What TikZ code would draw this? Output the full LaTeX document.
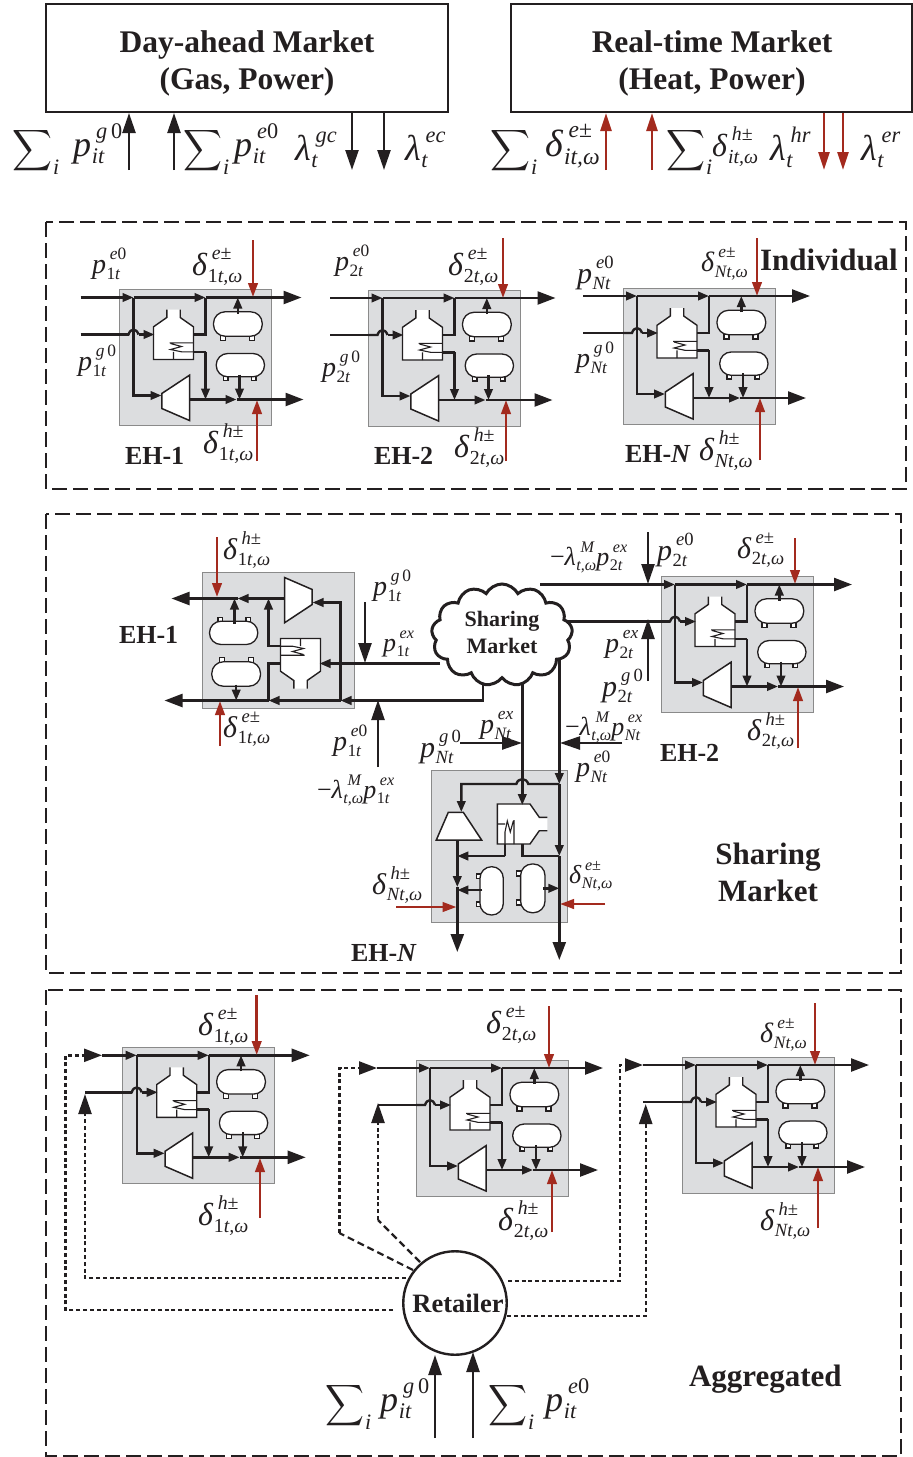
\documentclass[tikz,border=0pt]{standalone}
\usepackage{graphicx}
\usepackage{fontspec}
\setmainfont{Liberation Serif}
\usetikzlibrary{arrows.meta,shapes.symbols}
\definecolor{ink}{HTML}{231F20}
\definecolor{redl}{HTML}{A32A1E}
\definecolor{ehgray}{HTML}{DCDDDF}
\definecolor{ehedge}{HTML}{8A8A8A}
\newcommand\fs[1]{\fontsize{#1}{#1}\selectfont}
\newcommand\fss[1]{\fontsize{\the\dimexpr #1pt*62/100\relax}{#1pt}\selectfont}
\newcommand\I[1]{\textit{#1}}
% base symbol with superscript and subscript: size, base, sup, sub
\newcommand\sy[4]{\begingroup\fs{#1}\textit{#2}%
 \setbox0\hbox{\fss{#1}#3}\setbox2\hbox{\fss{#1}#4}%
 \dimen0=\wd0 \ifdim\wd2>\dimen0 \dimen0=\wd2\fi
 \kern.02em\hbox to\dimen0{\rlap{\kern.12em\raise.5em\box0}\lower.22em\box2\hfil}\endgroup}
\newcommand\Sm[3]{\raisebox{-2pt}{\resizebox*{#1pt}{46pt}{$\displaystyle\sum$}}\kern1pt\raisebox{-18pt}{\fs{#2}\textit{i}}\kern#3pt}
\newcommand\om{\I{t,ω}}
\newcommand\conn[4][plainl]{\coordinate (#2a) at (#3);\coordinate (#2b) at (#4);\draw[#1] (#2a)--(#2b);}
\tikzset{
 lab/.style={anchor=base west,inner sep=0pt,outer sep=0pt,text=ink},
 ttl/.style={anchor=base west,inner sep=0pt,outer sep=0pt,text=ink,font=\fs{26}\bfseries},
 big/.style={anchor=center,inner sep=0pt,align=center,text=ink,font=\fs{31}\bfseries},
 plainl/.style={draw=ink,line width=2.4pt},
 thinl/.style={draw=ink,line width=1.4pt},
 midl/.style={draw=ink,line width=2.4pt,-{Triangle[length=11pt,width=8.5pt]}},
 bigl/.style={draw=ink,line width=2.4pt,-{Triangle[length=18pt,width=13pt]}},
 exta/.style={draw=ink,line width=2.4pt,-{Triangle[length=20pt,width=13pt]}},
 reda/.style={draw=redl,line width=2.6pt,-{Triangle[length=14pt,width=9.5pt]}},
 topr/.style={draw=redl,line width=2.6pt,-{Triangle[length=18pt,width=11pt]}},
 dotl/.style={draw=ink,line width=2.4pt,dash pattern=on 4pt off 2.8pt},
 dashl/.style={draw=ink,line width=2.2pt,dash pattern=on 7pt off 4pt},
 panel/.style={draw=ink,line width=2pt,dash pattern=on 15pt off 6pt},
 mbox/.style={draw=ink,line width=2.2pt,fill=white},
 mtxt/.style={align=center,inner sep=0pt,font=\fs{31.5}\bfseries,text=ink},
}
% energy hub: name, end of top line, end of heat line (local coordinates),
% crossing of gas line and branch: 0 gas hops, 1 no hop, 2 branch hops
\newcommand\eh[4]{%
 \path[fill=ehgray,draw=ehedge,line width=1pt] (0,0) rectangle (152,136);
 \coordinate (#1-t) at (0,8);\coordinate (#1-g) at (9,45);
 % CHP
 \fill[white] (47.3,20)--(47.3,28)--(34,37.3)--(34,70)--(74,70)--(74,37.3)--(60.7,28)--(60.7,20)--cycle;
 \draw[thinl] (47.3,20)--(47.3,28)--(34,37.3)--(34,70)--(74,70)--(74,37.3)--(60.7,28)--(60.7,20);
 \draw[line width=1.1pt,draw=ink] (50,53.3)--(74,53.3) (51,54)--(62,57)--(51,60)--(62,62.3)--(74,62.3) (54,62.3)--(54,70);
 % turbine
 \draw[draw=ink,fill=white,line width=1.5pt] (42.3,104)--(70,85.7)--(70,131)--(42.3,119)--cycle;
 % tanks
 \draw[draw=ink,fill=white,line width=1.1pt] (101,46)rectangle(106,51) (130,46)rectangle(135,51) (104,86)rectangle(108.5,91) (132,86)rectangle(136.5,91);
 \draw[draw=ink,fill=white,line width=1.3pt,rounded corners=11.5pt] (94,22.3) rectangle (142.7,46.7);
 \draw[draw=ink,fill=white,line width=1.3pt,rounded corners=11.5pt] (96.7,64) rectangle (145,87.3);
 % flows
 \draw[midl] (0,8)--(14,8);
 \draw[midl] (14,8)--(86,8);
 \draw[bigl] (86,8)--(#2,8);
 \ifnum#4=2
  \draw[midl] (14,8)--(14,39) .. controls (7.5,41) and (7.5,49) .. (14,51)--(14,106)--(42,106);
  \draw[midl] (9,45)--(35,45);
  \draw[plainl] (0,45)--(9,45);
 \else
  \draw[midl] (14,8)--(14,106)--(42,106);
  \ifnum#4=1
   \draw[midl] (9,45)--(35,45);
   \draw[plainl] (0,45)--(9,45);
  \else
   \draw[plainl] (0,45)--(9,45) .. controls (11,38.5) and (17,38.5) .. (19,45);
   \draw[midl] (19,45)--(35,45);
  \fi
 \fi
 \draw[plainl] (74,45)--(86,45)--(86,8);
 \draw[plainl] (74,62.3)--(86,62.3);
 \draw[midl] (86,62)--(86,110);
 \draw[midl] (70,110)--(117,110);
 \draw[bigl] (117,110)--(#3,110);
 \draw[midl] (120,85)--(120,110);
 \draw[midl] (118.3,24)--(118.3,8);
}
\begin{document}
\begin{tikzpicture}[x=1pt,y=-1pt]
\useasboundingbox (0,0) rectangle (913,1457);
\fill[white] (0,0) rectangle (913,1457);

% ---- markets
\node[mbox,minimum width=402pt,minimum height=108pt] (dam) at (247,58) {};
\node[mbox,minimum width=401pt,minimum height=108pt] (rtm) at (711.5,58) {};
\node[mtxt] (damt) at (247,63.5) {Day-ahead Market\\[6pt](Gas, Power)};
\node[mtxt] (rtmt) at (712,63.5) {Real-time Market\\[6pt](Heat, Power)};
\conn[exta]{u1}{129,170}{129,113}
\conn[exta]{u2}{174,170}{174,113}
\conn[exta]{u3}{352,113}{352,170}
\conn[exta]{u4}{384,113}{384,170}
\conn[topr]{u5}{606,170}{606,113}
\conn[topr]{u6}{652,170}{652,113}
\conn[topr]{u7}{824,113}{824,170}
\conn[topr]{u8}{843,113}{843,170}
\node[lab] (l1) at (12,156) {\Sm{40}{22}{14}\sy{36}{p}{\I{g}\,0}{\I{it}}};
\node[lab] (l2) at (183,156) {\Sm{39}{22}{5}\sy{36}{p}{\I{e}0}{\I{it}}};
\node[lab] (l3) at (295,160) {\sy{36}{λ}{\I{gc}}{\I{t}}};
\node[lab] (l4) at (405,160) {\sy{36}{λ}{\I{ec}}{\I{t}}};
\node[lab] (l5) at (490,156) {\Sm{40}{22}{8}\sy{38}{δ}{\I{e}±}{\I{it,ω}}};
\node[lab] (l6) at (666,156) {\Sm{39}{22}{0}\sy{32}{δ}{\I{h}±}{\I{it,ω}}};
\node[lab] (l7) at (770,160) {\sy{36}{λ}{\I{hr}}{\I{t}}};
\node[lab] (l8) at (861,160) {\sy{36}{λ}{\I{er}}{\I{t}}};

% ---- panels
\draw[panel] (46,222) rectangle (906,489);
\draw[panel] (46,514) rectangle (901,973);
\draw[panel] (46,990) rectangle (901,1456);

% ---- individual
\begin{scope}[shift={(119.5,289.5)}]\eh{ia}{182}{184}{0}\end{scope}
\begin{scope}[shift={(368.5,290)}]\eh{ib}{187}{184}{0}\end{scope}
\begin{scope}[shift={(623,288)}]\eh{ic}{187}{183}{0}\end{scope}
\coordinate (ia-s) at (80.5,297.5);\coordinate (ia-h) at (80.5,334.5);
\draw[plainl] (ia-s)--(ia-t) (ia-h)--(ia-g);
\coordinate (ib-s) at (330,298);\coordinate (ib-h) at (330,335);
\draw[plainl] (ib-s)--(ib-t) (ib-h)--(ib-g);
\coordinate (ic-s) at (583,296);\coordinate (ic-h) at (583,333);
\draw[plainl] (ic-s)--(ic-t) (ic-h)--(ic-g);
\conn[reda]{ra}{253,240}{253,297}
\conn[reda]{rb}{257,461}{257,400}
\conn[reda]{rc}{503,238}{503,298}
\conn[reda]{rd}{506,461}{506,400}
\conn[reda]{re}{757,238}{757,296}
\conn[reda]{rf}{760,460}{760,398}
\node[lab] (i1) at (92,273) {\sy{28}{p}{\I{e}0}{1\I{t}}};
\node[lab] (i2) at (78,370) {\sy{28}{p}{\I{g}\,0}{1\I{t}}};
\node[lab] (i3) at (192,275) {\sy{32}{δ}{\I{e}±}{1\om}};
\node[lab] (i4) at (203,453) {\sy{32}{δ}{\I{h}±}{1\om}};
\node[ttl] (i5) at (125,464) {EH-1};
\node[lab] (i6) at (335,270) {\sy{28}{p}{\I{e}0}{2\I{t}}};
\node[lab] (i7) at (322,376) {\sy{28}{p}{\I{g}\,0}{2\I{t}}};
\node[lab] (i8) at (448,275) {\sy{32}{δ}{\I{e}±}{2\om}};
\node[lab] (i9) at (454,457) {\sy{32}{δ}{\I{h}±}{2\om}};
\node[ttl] (i10) at (374,464) {EH-2};
\node[lab] (i11) at (577,283) {\sy{30}{p}{\I{e}0}{\I{Nt}}};
\node[lab] (i12) at (576,367) {\sy{28}{p}{\I{g}\,0}{\I{Nt}}};
\node[lab] (i13) at (701,271) {\sy{28}{δ}{\I{e}±}{\I{Nt,ω}}};
\node[lab] (i14) at (699,460) {\sy{32}{δ}{\I{h}±}{\I{Nt,ω}}};
\node[ttl] (i15) at (625,462) {EH-\textit{N}};
\node[lab,font=\fs{31}\bfseries] (i16) at (760,270) {Individual};

% ---- sharing
\begin{scope}[shift={(354.5,708.5)},rotate=180]\eh{sa}{190}{183}{1}\end{scope}
\begin{scope}[shift={(661,576.5)}]\eh{sb}{191}{183}{0}\end{scope}
\begin{scope}[shift={(567.3,770)},rotate=-90]\eh{sc}{190}{182}{2}\end{scope}
\coordinate (c1) at (440,663.5);\coordinate (c2) at (483,670);\coordinate (c3) at (540,584.5);
\coordinate (c4) at (560,621.5);\coordinate (c5) at (522.3,670);\coordinate (c6) at (559.3,650);
\draw[plainl] (c1)--(sa-g) (c2)|-(sa-t);
\draw[plainl] (c3)--(sb-t) (c4)--(sb-g);
\draw[plainl] (c5)--(sc-g) (c6)--(sc-t);
\node[cloud,cloud puffs=13,cloud puff arc=125,aspect=1.45,draw=ink,fill=white,line width=3pt,minimum width=141pt,minimum height=102pt,inner sep=0pt] (mk) at (502,635) {};
\node[align=center,inner sep=0pt,text=ink,font=\fs{22}\bfseries] (mkt) at (502,632.5) {Sharing\\[5pt]Market};
\conn[exta]{sg}{365,602}{365,663}
\conn[exta]{se}{378,767}{378,700}
\conn[exta]{sh}{648,532}{648,584}
\conn[exta]{si}{648,681}{648,619}
\conn[exta]{sj}{460,743}{522,743}
\conn[exta]{sk}{622,743}{560,743}
\conn[reda]{sr1}{217,537}{217,597}
\conn[reda]{sr2}{220,746}{220,701}
\conn[reda]{sr3}{795,538}{795,584}
\conn[reda]{sr4}{798,748}{798,687}
\conn[reda]{sr5}{396,907}{456.5,907}
\conn[reda]{sr6}{605,904}{560,904}
\node[lab] (s1) at (223,559) {\sy{30}{δ}{\I{h}±}{1\om}};
\node[lab] (s2) at (223,737) {\sy{30}{δ}{\I{e}±}{1\om}};
\node[lab] (s3) at (373,595) {\sy{28}{p}{\I{g}\,0}{1\I{t}}};
\node[lab] (s4) at (383,651) {\sy{26}{p}{\I{ex}}{1\I{t}}};
\node[lab] (s5) at (333,750) {\sy{28}{p}{\I{e}0}{1\I{t}}};
\node[lab] (s6) at (317,798) {\fs{26}−\sy{26}{λ}{\kern1pt\I{M}}{\om}\sy{26}{p}{\I{ex}}{1\I{t}}};
\node[ttl] (s7) at (119,643) {EH-1};
\node[lab] (s8) at (550,565) {\fs{26}−\sy{26}{λ}{\kern1pt\I{M}}{\om}\sy{26}{p}{\I{ex}}{2\I{t}}};
\node[lab] (s9) at (657,560) {\sy{30}{p}{\I{e}0}{2\I{t}}};
\node[lab] (s10) at (737,558) {\sy{30}{δ}{\I{e}±}{2\om}};
\node[lab] (s11) at (605,652) {\sy{28}{p}{\I{ex}}{2\I{t}}};
\node[lab] (s12) at (602,696) {\sy{30}{p}{\I{g}\,0}{2\I{t}}};
\node[lab] (s13) at (747,740) {\sy{30}{δ}{\I{h}±}{2\om}};
\node[ttl] (s14) at (660,761) {EH-2};
\node[lab] (s15) at (480,733) {\sy{28}{p}{\I{ex}}{\I{Nt}}};
\node[lab] (s16) at (420,757) {\sy{30}{p}{\I{g}\,0}{\I{Nt}}};
\node[lab] (s17) at (565,735) {\fs{26}−\sy{26}{λ}{\kern1pt\I{M}}{\om}\sy{26}{p}{\I{ex}}{\I{Nt}}};
\node[lab] (s18) at (576,776) {\sy{28}{p}{\I{e}0}{\I{Nt}}};
\node[lab] (s19) at (372,894) {\sy{30}{δ}{\I{h}±}{\I{Nt,ω}}};
\node[lab] (s20) at (569,883) {\sy{26}{δ}{\I{e}±}{\I{Nt,ω}}};
\node[ttl] (s21) at (351,961) {EH-\textit{N}};
\node[big] (s22) at (768,872.5) {Sharing\\[6pt]Market};

% ---- aggregated
\begin{scope}[shift={(122.7,1047.3)}]\eh{aa}{187}{183}{0}\end{scope}
\begin{scope}[shift={(416,1060)}]\eh{ab}{187}{182}{0}\end{scope}
\begin{scope}[shift={(682,1057)}]\eh{ac}{187}{183}{0}\end{scope}
\coordinate (a1) at (102,1055.3);\coordinate (a2) at (85,1092.3);
\coordinate (a3) at (377,1068);\coordinate (a4) at (378,1105);
\coordinate (a5) at (643,1065);\coordinate (a6) at (643,1102);
\draw[plainl] (a1)--(aa-t) (a2)--(aa-g);
\draw[plainl] (a3)--(ab-t) (a4)--(ab-g);
\draw[plainl] (a5)--(ac-t) (a6)--(ac-g);
\node[circle,draw=ink,fill=white,line width=2.4pt,minimum size=103.5pt,inner sep=0pt,text=ink,font=\fs{26.5}\bfseries] (ret) at (455,1303) {\kern6pt Retailer};
% dotted feeders
\coordinate (d1) at (393,1310);\coordinate (d1a) at (65.5,1310);\coordinate (d1b) at (65.5,1055.3);\coordinate (d1c) at (84,1055.3);
\draw[dotl] (d1)--(d1a)--(d1b)--(d1c);
\coordinate (d2) at (406,1278);\coordinate (d2a) at (85,1278);\coordinate (d2b) at (85,1113);
\draw[dotl] (d2)--(d2a)--(d2b);
\coordinate (d3) at (413,1270);\coordinate (d3a) at (339.3,1233);\coordinate (d3b) at (339.3,1068);\coordinate (d3c) at (359,1068);
\draw[dashl] (d3)--(d3a);
\draw[dotl] (d3a)--(d3b)--(d3c);
\coordinate (d4) at (420,1262);\coordinate (d4a) at (378,1220);\coordinate (d4b) at (378,1122);
\draw[dashl] (d4)--(d4a);
\draw[dotl] (d4a)--(d4b);
\coordinate (d5) at (508,1281);\coordinate (d5a) at (620,1281);\coordinate (d5b) at (620,1065);\coordinate (d5c) at (626,1065);
\draw[dotl] (d5)--(d5a)--(d5b)--(d5c);
\coordinate (d6) at (507,1316);\coordinate (d6a) at (645.7,1316);\coordinate (d6b) at (645.7,1123);
\draw[dotl] (d6)--(d6a)--(d6b);
% heads on the feeders
\draw[bigl] (d1c)--(a1);
\draw[exta] (d2b)--(85,1094);
\draw[bigl] (d3c)--(a3);
\draw[exta] (d4b)--(378,1103);
\draw[bigl] (d5c)--(a5);
\draw[exta] (d6b)--(645.7,1104);
\conn[reda]{ar1}{256.7,995}{256.7,1055}
\conn[reda]{ar2}{260,1218}{260,1158}
\conn[reda]{ar3}{549,1006}{549,1068}
\conn[reda]{ar4}{552,1232}{552,1170}
\conn[reda]{ar5}{815,1003}{815,1065}
\conn[reda]{ar6}{818,1228}{818,1167}
\node[lab] (a11) at (198,1035) {\sy{32}{δ}{\I{e}±}{1\om}};
\node[lab] (a12) at (198,1225) {\sy{32}{δ}{\I{h}±}{1\om}};
\node[lab] (a13) at (486,1033) {\sy{32}{δ}{\I{e}±}{2\om}};
\node[lab] (a14) at (498,1230) {\sy{32}{δ}{\I{h}±}{2\om}};
\node[lab] (a15) at (760,1042) {\sy{28}{δ}{\I{e}±}{\I{Nt,ω}}};
\node[lab] (a16) at (760,1230) {\sy{30}{δ}{\I{h}±}{\I{Nt,ω}}};
\conn[exta]{b1}{435,1438}{435,1355}
\conn[exta]{b2}{473,1438}{473,1352}
\node[lab] (a17) at (325,1411) {\Sm{39}{22}{9}\sy{36}{p}{\I{g}\,0}{\I{it}}};
\node[lab] (a18) at (488,1411) {\Sm{39}{22}{11}\sy{36}{p}{\I{e}0}{\I{it}}};
\node[lab,font=\fs{31}\bfseries] (a19) at (689,1386) {Aggregated};
\end{tikzpicture}
\end{document}
